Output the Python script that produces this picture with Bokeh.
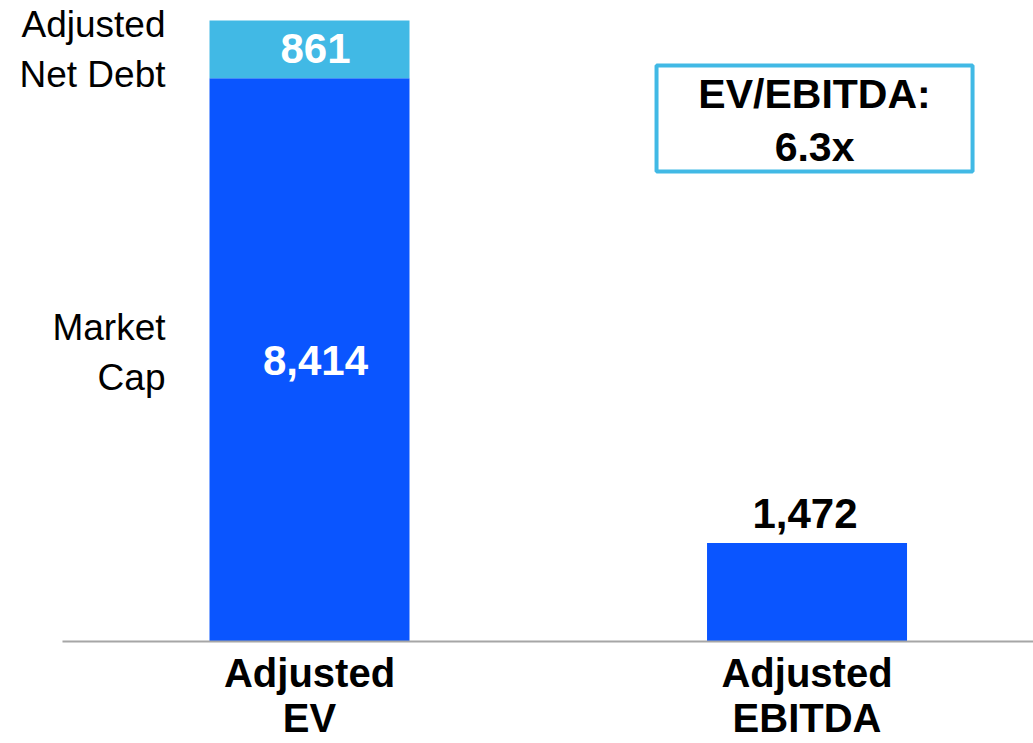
from bokeh.plotting import figure
from bokeh.models import Range1d, ColumnDataSource, BoxAnnotation
from bokeh.core.properties import value
from bokeh.embed import file_html
from bokeh.resources import INLINE

# Data
categories = ["Adjusted\nEV", "Adjusted\nEBITDA"]
market_cap = [8414, 0]
net_debt = [861, 0]
ebitda = [0, 1472]
segment_labels = ["Adjusted\nNet Debt", "Market\nCap"]
multiple_text = "EV/EBITDA:\n6.3x"

DARK = "#0A55FF"
LIGHT = "#41B9E5"
FONT = "Liberation Sans"

xpos = [0, 1]
bw = 0.402
AXIS_START = -0.4965   # left end of the baseline (x units)

# the frame covers the whole canvas so no text gets clipped
p = figure(width=1033, height=743, output_backend="svg", toolbar_location=None,
           x_range=Range1d(-0.6211, 1.4552), y_range=Range1d(-1523.5, 9574),
           min_border_left=0, min_border_right=0, min_border_top=0, min_border_bottom=0)
p.outline_line_color = None
p.xaxis.visible = False
p.yaxis.visible = False
p.xgrid.visible = False
p.ygrid.visible = False
p.background_fill_color = "white"
p.border_fill_color = "white"

# EV/EBITDA box
box = BoxAnnotation(left=0.6975, right=1.3327, bottom=7020, top=8603, level="underlay",
                    fill_color="white", fill_alpha=0.0, line_color=LIGHT, line_alpha=1.0,
                    line_width=4)
p.add_layout(box)

# bars
ev_src = ColumnDataSource(dict(x=[xpos[0]], mc=[market_cap[0]], nd=[market_cap[0] + net_debt[0]]))
p.vbar(x="x", width=bw, bottom=0, top="mc", source=ev_src, fill_color=DARK, line_color=None)
p.vbar(x="x", width=bw, bottom="mc", top="nd", source=ev_src, fill_color=LIGHT, line_color=None)
eb_src = ColumnDataSource(dict(x=[xpos[1]], top=[ebitda[1]]))
p.vbar(x="x", width=bw, bottom=0, top="top", source=eb_src, fill_color=DARK, line_color=None)

# baseline (category axis line)
p.segment(x0=[AXIS_START], x1=[p.x_range.end], y0=[0], y1=[0],
          line_color="#A6A6A6", line_width=2)

# value labels
mc_mid = market_cap[0] / 2
nd_mid = market_cap[0] + net_debt[0] / 2
p.text(x=[xpos[0], xpos[0]], y=[mc_mid, nd_mid],
       text=[f"{market_cap[0]:,}", f"{net_debt[0]:,}"],
       text_color="white", text_font=value(FONT), text_font_style="bold",
       text_font_size="42px", text_align="center", text_baseline="middle",
       x_offset=6, y_offset=[1, -1])
p.text(x=[xpos[1]], y=[ebitda[1]], text=[f"{ebitda[1]:,}"],
       text_color="black", text_font=value(FONT), text_font_style="bold",
       text_font_size="42px", text_align="center", text_baseline="bottom",
       x_offset=-2, y_offset=-15)

# text inside the box
p.text(x=[(0.6975 + 1.3327) / 2], y=[(7020 + 8603) / 2], text=[multiple_text],
       text_color="black", text_font=value(FONT), text_font_style="bold",
       text_font_size="41px", text_align="center", text_baseline="middle",
       text_line_height=1.15, y_offset=2)

# segment labels on the left
p.text(x=[xpos[0] - bw / 2] * 2, y=[nd_mid, mc_mid], text=segment_labels,
       text_color="black", text_font=value(FONT), text_font_size="37px",
       text_align="right", text_baseline="middle", text_line_height=1.22,
       x_offset=-44, y_offset=[0, -7])

# category labels below the baseline
p.text(x=xpos, y=[0, 0], text=categories,
       text_color="black", text_font=value(FONT), text_font_style="bold",
       text_font_size="40px", text_align="center", text_baseline="top",
       text_line_height=1.02, y_offset=10)

open("out.html", "w").write(file_html(p, INLINE))
